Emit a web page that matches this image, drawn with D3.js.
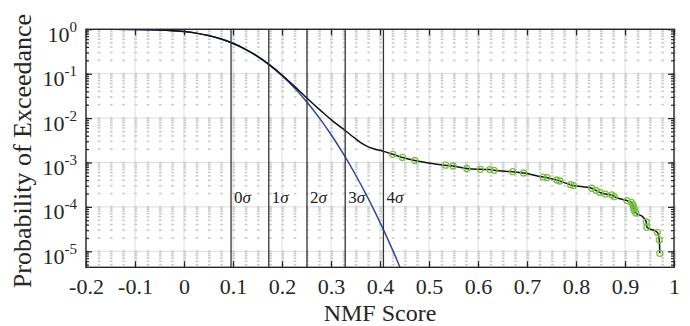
<!DOCTYPE html>
<html>
<head>
<meta charset="utf-8">
<script src="https://cdn.jsdelivr.net/npm/d3@7"></script>
<style>
    body { margin: 0; background: #fff; }
    svg { display: block; font-family: "Liberation Serif", "Times New Roman", serif; }
</style>
</head>
<body>
<svg id="chart"></svg>
<script>
// gaussian reference (blue)
const gaussX = [-0.2, -0.1, -0.05, 0, 0.025, 0.05, 0.075, 0.1, 0.125, 0.15, 0.175, 0.2,
    0.225, 0.25, 0.275, 0.3, 0.325, 0.35, 0.375, 0.4, 0.425, 0.45];
const gaussP = [1.0, 0.994, 0.970, 0.891, 0.820, 0.723, 0.607, 0.479, 0.354, 0.243, 0.154, 0.0901,
    0.0483, 0.0236, 0.0105, 0.00428, 0.00158, 5.3e-4, 1.62e-4, 4.5e-5, 1.12e-5, 2.5e-6];

// empirical exceedance (black)
const empX = [-0.2, -0.1, -0.05, 0, 0.025, 0.05, 0.075, 0.1, 0.125, 0.15, 0.175, 0.2, 0.225, 0.25,
    0.278, 0.305, 0.329, 0.345, 0.359, 0.373, 0.387, 0.407,
    0.426, 0.446, 0.471, 0.482, 0.502, 0.534, 0.549, 0.577, 0.605, 0.624, 0.633, 0.671, 0.693,
    0.733, 0.741, 0.761, 0.767, 0.789, 0.795, 0.814, 0.832, 0.841, 0.849, 0.860, 0.873, 0.878,
    0.904, 0.913, 0.916, 0.917, 0.918, 0.919, 0.922, 0.936, 0.9435, 0.9445, 0.966, 0.970, 0.971];
const empP = [1.0, 0.993, 0.970, 0.891, 0.820, 0.724, 0.610, 0.484, 0.359, 0.248, 0.158, 0.0933, 0.0525, 0.0288,
    0.0151, 0.00832, 0.00525, 0.00380, 0.00288, 0.00234, 0.00204, 0.00178,
    1.53e-3, 1.30e-3, 1.11e-3, 1.05e-3, 9.6e-4, 8.69e-4, 8.34e-4, 7.33e-4, 7.03e-4, 6.95e-4, 6.67e-4, 6.21e-4, 5.81e-4,
    4.71e-4, 4.55e-4, 4.04e-4, 3.83e-4, 3.16e-4, 3.02e-4, 2.85e-4, 2.63e-4, 2.34e-4, 2.11e-4, 1.95e-4, 1.86e-4, 1.70e-4,
    1.39e-4, 1.26e-4, 1.13e-4, 1.02e-4, 9.2e-5, 8.3e-5, 7.3e-5, 6.0e-5, 4.57e-5, 3.47e-5, 2.68e-5, 1.80e-5, 9.0e-6];

// flagged samples (green circles)
const tailX = [0.426, 0.446, 0.471, 0.534, 0.549, 0.577, 0.605, 0.624, 0.633, 0.671, 0.693,
    0.733, 0.741, 0.761, 0.767, 0.789, 0.795, 0.832, 0.841, 0.849, 0.860, 0.873, 0.878,
    0.904, 0.913, 0.916, 0.917, 0.918, 0.919, 0.922, 0.9435, 0.9445, 0.966, 0.970, 0.971];
const tailP = [1.53e-3, 1.30e-3, 1.11e-3, 8.69e-4, 8.34e-4, 7.33e-4, 7.03e-4, 6.95e-4, 6.67e-4, 6.21e-4, 5.81e-4,
    4.71e-4, 4.55e-4, 4.04e-4, 3.83e-4, 3.16e-4, 3.02e-4, 2.63e-4, 2.34e-4, 2.11e-4, 1.95e-4, 1.86e-4, 1.70e-4,
    1.39e-4, 1.26e-4, 1.13e-4, 1.02e-4, 9.2e-5, 8.3e-5, 7.3e-5, 4.57e-5, 3.47e-5, 2.68e-5, 1.80e-5, 9.0e-6];

// sigma markers
const sigmaX = [0.096, 0.173, 0.251, 0.329, 0.407];
const sigmaLabels = ["0", "1", "2", "3", "4"];

// ticks
const xTicks = [-0.2, -0.1, 0, 0.1, 0.2, 0.3, 0.4, 0.5, 0.6, 0.7, 0.8, 0.9, 1];
const xTickLabels = ["-0.2", "-0.1", "0", "0.1", "0.2", "0.3", "0.4", "0.5", "0.6", "0.7", "0.8", "0.9", "1"];
const yTicks = [1, 1e-1, 1e-2, 1e-3, 1e-4, 1e-5];
const yTickExp = ["0", "-1", "-2", "-3", "-4", "-5"];

const width = 690;
const height = 326;
const margin = { top: 29.3, right: 16, bottom: 58.7, left: 86 };
const iw = width - margin.left - margin.right;
const ih = height - margin.top - margin.bottom;
const axisColor = "#262626";

const svg = d3.select("#chart").attr("width", width).attr("height", height);
const g = svg.append("g").attr("transform", `translate(${margin.left},${margin.top})`);

const x = d3.scaleLinear().domain([-0.2, 1]).range([0, iw]);
const y = d3.scaleLog().domain([Math.pow(10, -5.36), 1]).range([ih, 0]);

g.append("clipPath").attr("id", "clip")
    .append("rect").attr("width", iw).attr("height", ih);

// minor positions
const minorX = d3.range(0, 49).map((i) => -0.2 + i * 0.025);
const minorY = [];
for (let k = -6; k <= 0; k++) {
    for (let m = 1; m <= 9; m++) {
        const v = m * Math.pow(10, k);
        if (v >= y.domain()[0] && v <= 1) minorY.push(v);
    }
}

// major grid
g.append("g").selectAll("line").data(xTicks).join("line")
    .attr("x1", (d) => x(d)).attr("x2", (d) => x(d))
    .attr("y1", 0).attr("y2", ih)
    .attr("stroke", "#dedede").attr("stroke-width", 1);
g.append("g").selectAll("line").data(yTicks).join("line")
    .attr("x1", 0).attr("x2", iw)
    .attr("y1", (d) => y(d)).attr("y2", (d) => y(d))
    .attr("stroke", "#dedede").attr("stroke-width", 1);

// minor grid (dotted, shows as small dashes at crossings)
const cross = [];
minorX.forEach((a) => minorY.forEach((b) => cross.push([a, b])));
g.append("g").selectAll("rect").data(cross).join("rect")
    .attr("x", (d) => x(d[0]) - 0.5)
    .attr("y", (d) => y(d[1]) - 0.8)
    .attr("width", 2.6).attr("height", 1.6)
    .attr("fill", "#c9c9c9");

// curves
const plot = g.append("g").attr("clip-path", "url(#clip)");
const line = d3.line().x((d) => x(d[0])).y((d) => y(d[1])).curve(d3.curveMonotoneX);

plot.append("path")
    .datum(d3.zip(gaussX, gaussP))
    .attr("d", line)
    .attr("fill", "none").attr("stroke", "#2c48a0").attr("stroke-width", 1.5);

plot.append("path")
    .datum(d3.zip(empX, empP))
    .attr("d", line)
    .attr("fill", "none").attr("stroke", "#111").attr("stroke-width", 1.5);

plot.append("g").selectAll("circle").data(d3.zip(tailX, tailP)).join("circle")
    .attr("cx", (d) => x(d[0])).attr("cy", (d) => y(d[1]))
    .attr("r", 3)
    .attr("fill", "none").attr("stroke", "#78c043").attr("stroke-width", 1.3);

// sigma lines
const sig = g.append("g").selectAll("g").data(d3.zip(sigmaX, sigmaLabels)).join("g");
sig.append("line")
    .attr("x1", (d) => x(d[0])).attr("x2", (d) => x(d[0]))
    .attr("y1", 0).attr("y2", ih)
    .attr("stroke", "#333").attr("stroke-width", 1.3);
const sigText = sig.append("text")
    .attr("x", (d) => x(d[0]) + 3)
    .attr("y", 174)
    .attr("font-size", 17)
    .attr("fill", "#222");
sigText.append("tspan").text((d) => d[1]);
sigText.append("tspan").attr("font-style", "italic").text("σ");

// axes
const xAxis = g.append("g").attr("transform", `translate(0,${ih})`)
    .call(d3.axisBottom(x).tickValues(xTicks).tickSizeInner(-6).tickSizeOuter(0).tickPadding(11)
        .tickFormat((d, i) => xTickLabels[i]));
const xAxisTop = g.append("g")
    .call(d3.axisTop(x).tickValues(xTicks).tickSizeInner(-6).tickSizeOuter(0).tickFormat(""));
const yAxis = g.append("g")
    .call(d3.axisLeft(y).tickValues(yTicks).tickSizeInner(-6).tickSizeOuter(0).tickFormat(""));
const yAxisMinor = g.append("g")
    .call(d3.axisLeft(y).tickValues(minorY).tickSizeInner(-3).tickSizeOuter(0).tickFormat(""));
const yAxisR = g.append("g").attr("transform", `translate(${iw},0)`)
    .call(d3.axisRight(y).tickValues(yTicks).tickSizeInner(-6).tickSizeOuter(0).tickFormat(""));
const yAxisRMinor = g.append("g").attr("transform", `translate(${iw},0)`)
    .call(d3.axisRight(y).tickValues(minorY).tickSizeInner(-3).tickSizeOuter(0).tickFormat(""));

[xAxis, xAxisTop, yAxis, yAxisMinor, yAxisR, yAxisRMinor].forEach((a) => {
    a.select(".domain").remove();
    a.selectAll("line").attr("stroke", axisColor).attr("stroke-width", 1.2);
});
xAxis.selectAll("text")
    .attr("font-family", "Liberation Serif, Times New Roman, serif")
    .attr("font-size", 22).attr("fill", axisColor);

// y tick labels 10^k
const yLab = g.append("g").selectAll("text").data(d3.zip(yTicks, yTickExp)).join("text")
    .attr("x", -9).attr("y", (d) => y(d[0]) + 12.4)
    .attr("text-anchor", "end")
    .attr("font-size", 22).attr("fill", axisColor);
yLab.append("tspan").text("10");
yLab.append("tspan").attr("dy", -10).attr("font-size", 15).text((d) => d[1]);

// box
g.append("rect").attr("width", iw).attr("height", ih)
    .attr("fill", "none").attr("stroke", axisColor).attr("stroke-width", 1.4);

// axis titles
svg.append("text")
    .attr("x", margin.left + iw / 2).attr("y", 320.5)
    .attr("text-anchor", "middle")
    .attr("font-size", 24).attr("fill", axisColor)
    .text("NMF Score");
svg.append("text")
    .attr("transform", "translate(30.5,151) rotate(-90)")
    .attr("text-anchor", "middle")
    .attr("font-size", 26).attr("fill", axisColor)
    .text("Probability of Exceedance");
</script>
</body>
</html>
